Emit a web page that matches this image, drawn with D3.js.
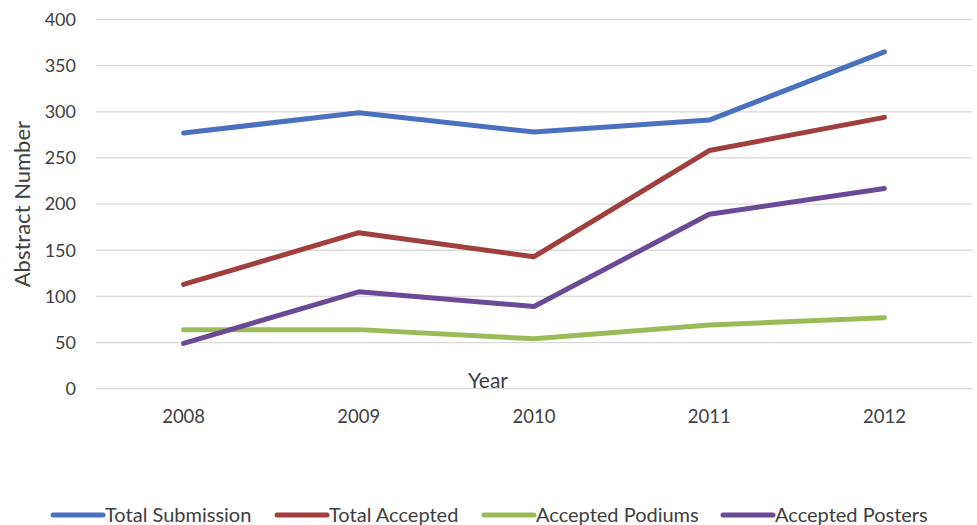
<!DOCTYPE html>
<html>
<head>
<meta charset="utf-8">
<script src="https://cdn.jsdelivr.net/npm/d3@7"></script>
<style>
  html, body { margin: 0; padding: 0; background: #fff; }
  svg text { font-family: Lato, "Open Sans", "Liberation Sans", sans-serif; fill: #404040; }
</style>
</head>
<body>
<svg id="chart" width="977" height="525"></svg>
<script>
// ---- data ----
const years = ['2008', '2009', '2010', '2011', '2012'];
const totalSubmission = [277, 299, 278, 291, 365];
const totalAccepted   = [113, 169, 143, 258, 294];
const acceptedPodiums = [64, 64, 54, 69, 77];
const acceptedPosters = [49, 105, 89, 189, 217];
const yTicks = [0, 50, 100, 150, 200, 250, 300, 350, 400];

const series = [
  { name: 'Total Submission', values: totalSubmission, color: '#4a70c0' },
  { name: 'Total Accepted',   values: totalAccepted,   color: '#a03f3d' },
  { name: 'Accepted Podiums', values: acceptedPodiums, color: '#9bbb59' },
  { name: 'Accepted Posters', values: acceptedPosters, color: '#6a4a97' }
];

const svg = d3.select('#chart');
const m = { l: 96, r: 5, t: 19.5, b: 136.3 };
const W = 977, H = 525;

const x = d3.scaleBand().domain(years).range([m.l, W - m.r]);
const y = d3.scaleLinear().domain([0, 400]).range([H - m.b, m.t]);

// gridlines
svg.append('g').selectAll('line').data(yTicks).join('line')
  .attr('x1', m.l).attr('x2', W - m.r)
  .attr('y1', d => y(d)).attr('y2', d => y(d))
  .attr('stroke', '#d9d9d9').attr('stroke-width', 1.3);

// y axis labels
const yAxis = svg.append('g').attr('transform', `translate(${m.l},0)`)
  .call(d3.axisLeft(y).tickValues(yTicks).tickSize(0).tickPadding(20));
yAxis.select('.domain').remove();
yAxis.selectAll('text').style('font-size', '18px').attr('fill', '#404040')
  .style('font-family', 'Lato, "Open Sans", sans-serif');

// x axis labels
const xAxis = svg.append('g').attr('transform', `translate(0,${y(0)})`)
  .call(d3.axisBottom(x).tickSize(0).tickPadding(21));
xAxis.select('.domain').remove();
xAxis.selectAll('text').style('font-size', '18.5px').attr('fill', '#404040')
  .style('font-family', 'Lato, "Open Sans", sans-serif');

// axis titles
svg.append('text')
  .attr('transform', `translate(30,${(y(0) + y(400)) / 2}) rotate(-90)`)
  .attr('text-anchor', 'middle').style('font-size', '22px').text('Abstract Number');
svg.append('text').attr('x', 488).attr('y', 388)
  .attr('text-anchor', 'middle').style('font-size', '21px').text('Year');

// lines
const line = d3.line()
  .x((d, i) => x(years[i]) + x.bandwidth() / 2)
  .y(d => y(d));
svg.append('g').selectAll('path').data(series).join('path')
  .attr('d', d => line(d.values))
  .attr('fill', 'none')
  .attr('stroke', d => d.color)
  .attr('stroke-width', 5)
  .attr('stroke-linecap', 'round')
  .attr('stroke-linejoin', 'round');

// legend
const legendX = [53, 277, 484, 723];
const lg = svg.append('g').selectAll('g').data(series).join('g')
  .attr('transform', (d, i) => `translate(${legendX[i]},515)`);
lg.append('line').attr('x1', 0).attr('x2', 50).attr('y1', 0).attr('y2', 0)
  .attr('stroke', d => d.color).attr('stroke-width', 5).attr('stroke-linecap', 'round');
lg.append('text').attr('x', 52).attr('y', 7).style('font-size', '20px').text(d => d.name);
</script>
</body>
</html>
